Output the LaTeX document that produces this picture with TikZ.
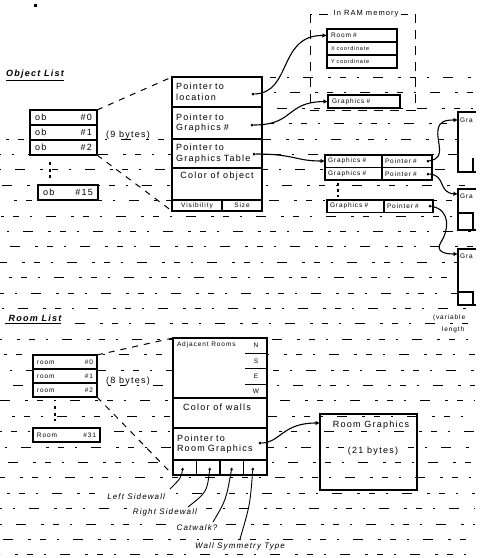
\documentclass[tikz,border=0pt]{standalone}
\usepackage{fontspec}
\setmainfont{Liberation Sans}[LetterSpace=14]
\usetikzlibrary{arrows.meta,calc}
\begin{document}
\begin{tikzpicture}[x=1pt,y=-1pt,
  every node/.style={inner sep=0pt, outer sep=0pt, font=\fontsize{9}{10.5}\selectfont},
  cell/.style={draw, line width=1.1pt, fill=white, anchor=north west, align=left},
  box/.style={draw, line width=1.6pt},
  conn/.style={line width=1.1pt, -{Latex[length=4.5pt,width=4.5pt]}},
  lead/.style={line width=0.9pt, {Latex[length=3pt,width=3pt]}-},
  fan/.style={line width=1pt, dash pattern=on 6pt off 6pt},
  ramline/.style={line width=1pt, dash pattern=on 9pt off 7pt},
  rule/.style={line width=0.55pt, dash pattern=on 6pt off 11pt on 2pt off 14pt on 10pt off 15pt on 3pt off 9pt},
  pdot/.style={circle, fill, minimum size=3pt},
  small/.style={font=\fontsize{6.5}{7.5}\selectfont},
  tiny/.style={font=\fontsize{5.5}{6.5}\selectfont},
  lbl/.style={font=\itshape\fontsize{8}{9}\selectfont},
  ttl/.style={font=\bfseries\itshape\fontsize{9}{10}\selectfont},
]
\useasboundingbox (0,0) rectangle (488,558);
% notebook rules
\foreach \k in {0,...,31} {
  \pgfmathsetmacro{\yy}{77.2+15.4*\k}
  \pgfmathsetmacro{\ph}{mod(\k*13,60)}
  \ifdim\yy pt<130pt
    \draw[rule, dash phase=\ph pt] (270,\yy) -- (475,\yy);
  \else
    \draw[rule, dash phase=\ph pt] (0,\yy) -- (475,\yy);
  \fi
}
\fill (34,4) rectangle (37,7);

% ---------------- Object list ----------------
\node[ttl] (olt) at (35,74) {Object List};
\draw[line width=1.2pt] ([yshift=-2pt]olt.south west) -- ([yshift=-2pt]olt.south east);
\node[cell, minimum height=15pt, text width=57pt, inner xsep=5pt] (ob0) at (30,110) {ob\hfill\#0};
\node[cell, minimum height=15pt, text width=57pt, inner xsep=5pt] (ob1) at (30,125) {ob\hfill\#1};
\node[cell, minimum height=15pt, text width=57pt, inner xsep=5pt] (ob2) at (30,140) {ob\hfill\#2};
\draw[box] (ob0.north west) rectangle (ob2.south east);
\draw[line width=2pt, dash pattern=on 3pt off 3.5pt] (50,162) -- (50,179);
\node[cell, box, minimum height=15pt, text width=50pt, inner xsep=5pt] (ob15) at (38,185) {ob\hfill\#15};
\node (nb) at (128,135) {(9 bytes)};

% object record
\node[cell, minimum height=30pt, text width=82pt, inner xsep=4pt] (locn) at (172,77) {Pointer to\\location};
\node[cell, minimum height=32pt, text width=82pt, inner xsep=4pt] (gfx) at (172,107) {Pointer to\\Graphics \#};
\node[cell, minimum height=29pt, text width=82pt, inner xsep=4pt] (gtab) at (172,139) {Pointer to\\Graphics Table};
\node[cell, minimum height=32pt, minimum width=90pt] (colr) at (172,168) {};
\node (colt) at (217,176) {Color of object};
\node[cell, small, minimum height=11pt, minimum width=50pt, align=center] (vis) at (172,200) {Visibility};
\node[cell, small, minimum height=11pt, minimum width=40pt, align=center] (size) at (222,200) {Size};
\draw[box] (locn.north west) rectangle (size.south east);
\draw[fan] (ob0.north east) -- (locn.north west);
\draw[fan] (ob2.south east) -- (vis.south west);
\node[pdot] (p1) at (253,94) {};
\node[pdot] (p2) at (252,125) {};
\node[pdot] (p3) at (254,154) {};

% In RAM memory
\draw[ramline] (310,14) rectangle (415,110);
\node[fill=white, inner xsep=3pt, inner ysep=1pt, font=\fontsize{7.5}{8.5}\selectfont] (ramt) at (366,14) {In RAM memory};
\node[cell, small, minimum height=13pt, text width=62pt, inner xsep=4pt] (rm1) at (327,29) {Room \#};
\node[cell, tiny, minimum height=13pt, text width=62pt, inner xsep=4pt] (rm2) at (327,42) {X coordinate};
\node[cell, tiny, minimum height=13pt, text width=62pt, inner xsep=4pt] (rm3) at (327,55) {Y coordinate};
\draw[box] (rm1.north west) rectangle (rm3.south east);
\node[cell, box, small, minimum height=13pt, text width=64pt, inner xsep=4pt] (gnum) at (328,95) {Graphics \#};

\draw[conn] (p1) .. controls (292,93) and (278,35) .. (rm1.west);
\draw[conn] (p2) .. controls (295,125) and (285,102) .. (gnum.west);
\draw[conn] (p3) .. controls (295,154) and (295,161) .. (325,161);

% graphics table
\node[cell, small, minimum height=12.5pt, text width=51pt, inner xsep=3pt] (ga1) at (325,155) {Graphics \#};
\node[cell, small, minimum height=12.5pt, text width=44pt, inner xsep=3pt] (gb1) at (382,155) {Pointer \#};
\node[cell, small, minimum height=12.5pt, text width=51pt, inner xsep=3pt] (ga2) at (325,167.5) {Graphics \#};
\node[cell, small, minimum height=12.5pt, text width=44pt, inner xsep=3pt] (gb2) at (382,167.5) {Pointer \#};
\draw[box] (ga1.north west) rectangle (gb2.south east);
\draw[line width=2pt, dash pattern=on 3pt off 3pt] (338,183) -- (338,197);
\node[cell, small, minimum height=12.5pt, text width=51pt, inner xsep=3pt] (ga3) at (327,200) {Graphics \#};
\node[cell, small, minimum height=12.5pt, text width=43pt, inner xsep=3pt] (gb3) at (384,200) {Pointer \#};
\draw[box] (ga3.north west) rectangle (gb3.south east);
\node[pdot] (q1) at (428,161) {};
\node[pdot] (q2) at (428,174) {};
\node[pdot] (q3) at (430,206) {};

% cut-off graphics boxes on right
\fill[white] (457,111) rectangle (476,173);
\fill[white] (457,188) rectangle (476,231);
\fill[white] (457,248) rectangle (476,306);
\draw[line width=1.4pt] (476,112) -- (458,112) -- (458,172) -- (476,172);
\draw[line width=1.2pt] (473,158) -- (473,172);
\draw[line width=1.4pt] (476,189) -- (458,189) -- (458,230) -- (476,230);
\draw[line width=1.2pt] (458,213) -- (473,213) -- (473,230);
\draw[line width=1.4pt] (476,249) -- (458,249) -- (458,305) -- (476,305);
\draw[line width=1.2pt] (458,292) -- (473,292) -- (473,305);
\node[small, anchor=west] (ga) at (460,120) {Gra};
\node[small, anchor=west] (gb) at (460,196) {Gra};
\node[small, anchor=west] (gc) at (460,256) {Gra};
\node[small, anchor=west, fill=white] (vl1) at (433,318) {(variable};
\node[small, anchor=west, fill=white] (vl2) at (442,330) {length};
\coordinate (ra) at (458,120);
\coordinate (rb) at (458,194);
\coordinate (rc) at (458,254);
\draw[conn] (q1) .. controls (447,158) and (436,142) .. (438,130) .. controls (439,121) and (446,120) .. (ra);
\draw[conn] (q2) .. controls (446,175) and (438,193) .. (rb);
\draw[conn] (q3) .. controls (452,210) and (448,232) .. (441,242) .. controls (435,252) and (445,254) .. (rc);

% ---------------- Room list ----------------
\node[ttl] (rlt) at (35,318) {Room List};
\draw[line width=1.2pt] ([yshift=-2pt]rlt.south west) -- ([yshift=-2pt]rlt.south east);
\node[cell, small, minimum height=14pt, text width=56pt, inner xsep=4pt] (r0) at (33,355) {room\hfill\#0};
\node[cell, small, minimum height=14pt, text width=56pt, inner xsep=4pt] (r1) at (33,369) {room\hfill\#1};
\node[cell, small, minimum height=14pt, text width=56pt, inner xsep=4pt] (r2) at (33,383) {room\hfill\#2};
\draw[box] (r0.north west) rectangle (r2.south east);
\draw[line width=2pt, dash pattern=on 3pt off 3.5pt] (55,406) -- (55,421);
\node[cell, box, small, minimum height=14pt, text width=59pt, inner xsep=4pt] (r31) at (33,428) {Room\hfill\#31};
\node (eb) at (128,381) {(8 bytes)};

% room record
\node[cell, minimum height=60pt, minimum width=94pt] (adj) at (173,338) {};
\node[small, anchor=north west] (adjt) at (177,342) {Adjacent Rooms};
\node[small] (dn) at (256,345) {N};
\node[small] (ds) at (256,361) {S};
\node[small] (de) at (256,376) {E};
\node[small] (dw) at (256,391) {W};
\draw[line width=1pt] (245,353) -- (267,353) (245,368) -- (267,368) (245,384) -- (267,384);
\node[cell, minimum height=30pt, minimum width=94pt] (cow) at (173,398) {};
\node (cowt) at (217,407) {Color of walls};
\node[cell, minimum height=32pt, text width=86pt, inner xsep=4pt] (prg) at (173,428) {Pointer to\\Room Graphics};
\node[cell, minimum height=15pt, minimum width=23.5pt] (c1) at (173,460) {};
\node[cell, minimum height=15pt, minimum width=23.5pt] (c2) at (196.5,460) {};
\node[cell, minimum height=15pt, minimum width=23.5pt] (c3) at (220,460) {};
\node[cell, minimum height=15pt, minimum width=23.5pt] (c4) at (243.5,460) {};
\draw[box] (adj.north west) rectangle (c4.south east);
\draw[fan] (r0.north east) -- (adj.north west);
\draw[fan] (r2.south east) -- (c1.south west);
\node[pdot] (p4) at (260,443) {};

\draw[line width=1.4pt] (320,414) rectangle (417,490);
\node[fill=white, inner sep=1pt] (rgt) at (371,425) {Room Graphics};
\node[fill=white, inner sep=1pt] (rgb) at (373,451) {(21 bytes)};
\coordinate (rgin) at (320,423);
\draw[conn] (p4) .. controls (280,443) and (282,423) .. (rgin);

% bottom labels
\coordinate (k1) at (183,467);
\coordinate (k2) at (210,467);
\coordinate (k3) at (232,467);
\coordinate (k4) at (253,467);
\node[lbl, anchor=east, fill=white, inner sep=1pt] (lsw) at (166,497) {Left Sidewall};
\node[lbl, anchor=east, fill=white, inner sep=1pt] (rsw) at (198,512) {Right Sidewall};
\node[lbl, fill=white, inner sep=1pt] (cw) at (197,528) {Catwalk?};
\node[lbl, fill=white, inner sep=1pt] (wst) at (240,546) {Wall Symmetry Type};
\draw[lead] (k1) .. controls (181,478) .. (170,489);
\draw[lead] (k2) .. controls (207,492) .. (188,507);
\draw[lead] (k3) .. controls (226,500) .. (213,522);
\draw[lead] (k4) .. controls (250,505) .. (240,539);
\end{tikzpicture}
\end{document}
